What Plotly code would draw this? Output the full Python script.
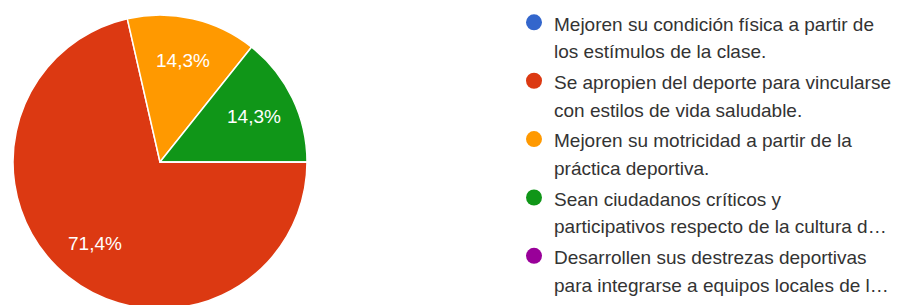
import math
import plotly.graph_objects as go

labels = [
    "Mejoren su condición física a partir de<br>los estímulos de la clase.",
    "Se apropien del deporte para vincularse<br>con estilos de vida saludable.",
    "Mejoren su motricidad a partir de la<br>práctica deportiva.",
    "Sean ciudadanos críticos y<br>participativos respecto de la cultura d…",
    "Desarrollen sus destrezas deportivas<br>para integrarse a equipos locales de l…",
]
values = [0, 5, 1, 1, 0]
colors = ["#3366cc", "#dc3912", "#ff9900", "#109618", "#990099"]

W, H = 905, 305
# pie geometry in figure pixels (page body adds an 8px offset)
CX, CY, R = 152, 154, 147
FONT = "Liberation Sans, Arial, sans-serif"

fig = go.Figure()
fig.add_trace(go.Pie(
    labels=labels,
    values=values,
    sort=False,
    direction="clockwise",
    rotation=90,
    marker=dict(colors=colors, line=dict(color="white", width=1.5)),
    textinfo="none",
    showlegend=False,
    hoverinfo="label+percent",
    domain=dict(x=[(CX - R) / W, (CX + R) / W], y=[(H - CY - R) / H, (H - CY + R) / H]),
))

# percentage labels placed at the middle angle of each slice
total = sum(values)
start = 0.0  # degrees, math convention, starting at 3 o'clock going clockwise
for v in values:
    if v <= 0:
        continue
    span = 360.0 * v / total
    mid = math.radians(start - span / 2)
    px = CX + 0.71 * R * math.cos(mid)
    py = CY - 0.71 * R * math.sin(mid)
    pct = f"{100 * v / total:.1f}".replace(".", ",") + "%"
    fig.add_annotation(
        x=px / W, y=1 - py / H, xref="paper", yref="paper",
        text=pct, showarrow=False,
        font=dict(family=FONT, size=19, color="white"),
        xanchor="center", yanchor="middle",
    )
    start -= span

for lab, col in zip(labels, colors):
    fig.add_trace(go.Scatter(
        x=[None], y=[None], mode="markers",
        marker=dict(symbol="circle", size=18, color=col),
        name='<span style="font-size:19px">' + lab + "</span>",
        showlegend=True,
    ))

fig.update_layout(
    width=W, height=H,
    margin=dict(l=0, r=0, t=0, b=0, autoexpand=False),
    paper_bgcolor="white",
    plot_bgcolor="white",
    separators=",.",
    xaxis=dict(visible=False),
    yaxis=dict(visible=False),
    legend=dict(
        x=506 / W, y=1 + 6 / H, xanchor="left", yanchor="top",
        font=dict(family=FONT, size=21.3, color="#333333"),
        valign="top",
        maxheight=600,
        bgcolor="rgba(0,0,0,0)",
        itemclick=False, itemdoubleclick=False,
    ),
)

fig.write_html("out.html")
